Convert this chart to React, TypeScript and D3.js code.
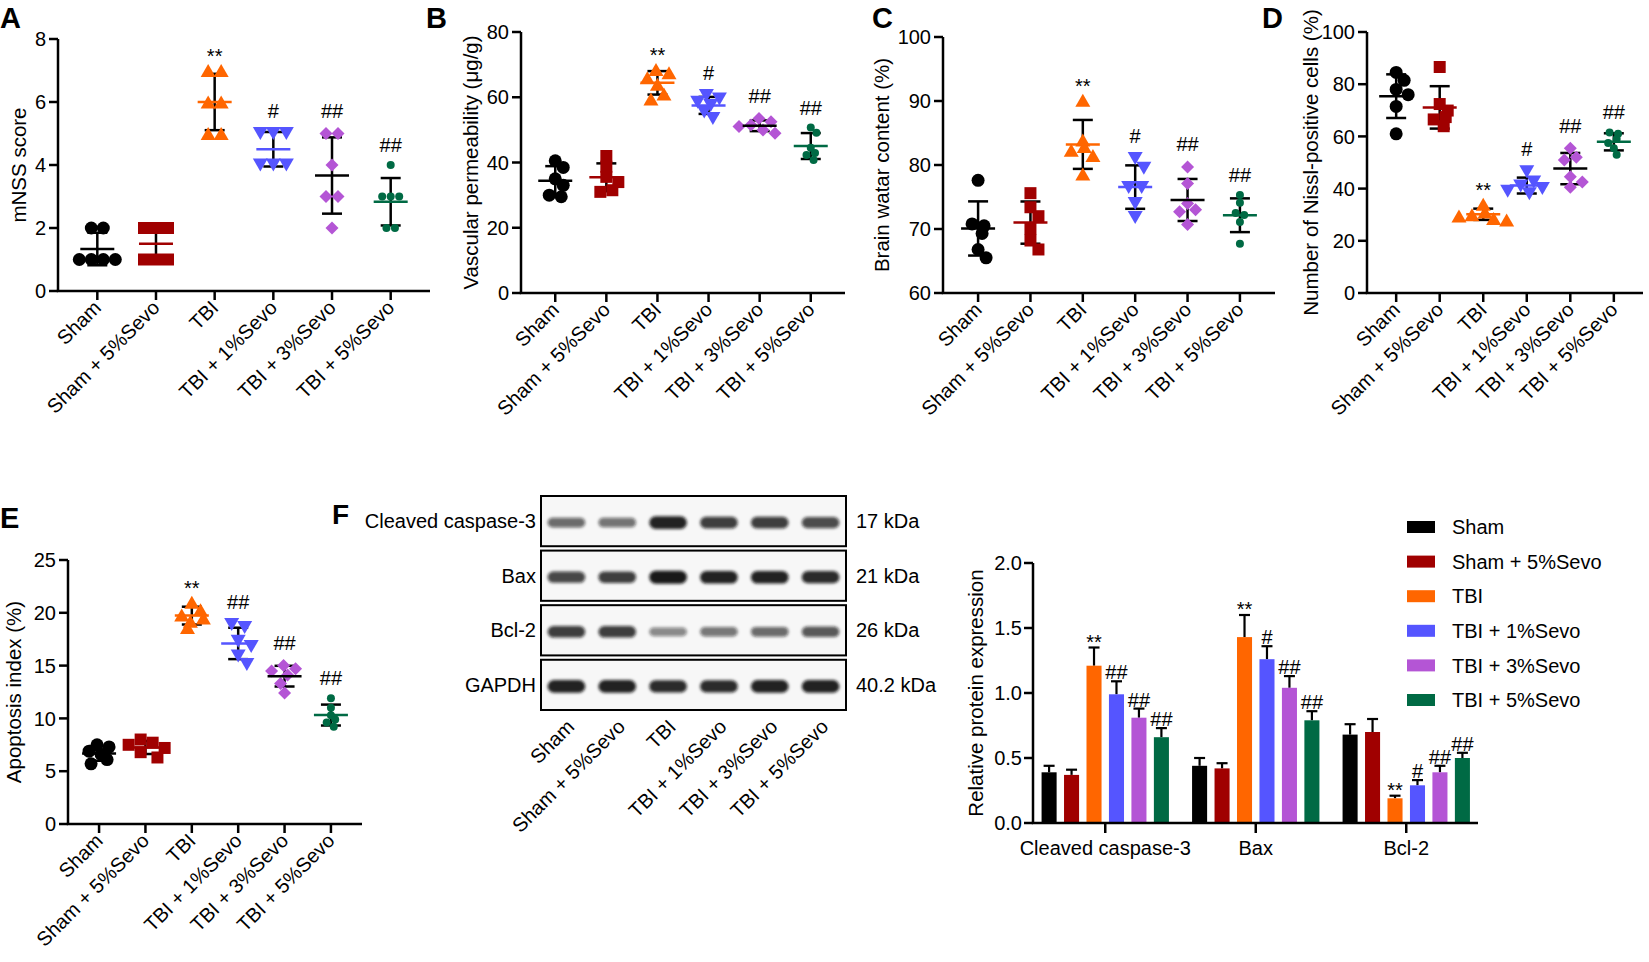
import * as d3 from 'd3';
import React from 'react';

// groups shared by every panel
const groups = ['Sham', 'Sham + 5%Sevo', 'TBI', 'TBI + 1%Sevo', 'TBI + 3%Sevo', 'TBI + 5%Sevo'];
const groupColors = ['#000000', '#a00000', '#ff6600', '#5555ff', '#b455d5', '#006a44'];
const meanColors = ['#000000', '#a00000', '#ff6600', '#5555ff', '#000000', '#006a44'];
const shapes = ['circle', 'square', 'triUp', 'triDown', 'diamond', 'dot'];

// A: mNSS score
const mnssScore = [
  [2, 2, 1, 1, 1, 1],
  [2, 2, 2, 1, 1, 1],
  [7, 7, 6, 6, 5, 5],
  [5, 5, 5, 4, 4, 4],
  [5, 5, 4, 3, 3, 2],
  [4, 3, 3, 3, 2, 2],
];
const mnssSig = ['', '', '**', '#', '##', '##'];
const mnssTicks = [0, 2, 4, 6, 8];

// B: vascular permeability
const permeability = [
  [40.5, 38.5, 35, 33, 30, 29.5],
  [42, 38.7, 35.6, 34, 31.5, 31],
  [68.5, 67.5, 66, 64, 61, 59.5],
  [60.5, 59.5, 58.5, 57.5, 55.5, 53.5],
  [53.5, 52.5, 51.5, 51, 50, 49],
  [50.7, 49.1, 44.5, 42.9, 42.3, 40.8],
];
const permeabilitySig = ['', '', '**', '#', '##', '##'];
const permeabilityTicks = [0, 20, 40, 60, 80];

// C: brain water content
const waterContent = [
  [77.6, 70.8, 70.5, 69.3, 66.8, 65.5],
  [75.6, 73.4, 72, 70, 68.2, 66.8],
  [90.1, 83.9, 82.9, 82.3, 81.5, 78.6],
  [81, 79.5, 76.5, 76.5, 74, 71.8],
  [79.7, 77.1, 74, 73, 72.7, 70.7],
  [75.3, 74.1, 72.5, 72.2, 71.1, 67.7],
];
const waterSig = ['', '', '**', '#', '##', '##'];
const waterTicks = [60, 70, 80, 90, 100];

// D: Nissl-positive cells
const nisslCells = [
  [84.5, 81.5, 78, 76, 71.5, 61],
  [86.6, 72.4, 69.9, 67.4, 66.5, 63.9],
  [34, 31, 30, 29.5, 28.5, 28],
  [46.5, 42.5, 41, 40, 39, 38],
  [55.5, 52, 51, 44.5, 42.5, 40.5],
  [61.5, 61, 59, 57.5, 55.5, 53],
];
const nisslSig = ['', '', '**', '#', '##', '##'];
const nisslTicks = [0, 20, 40, 60, 80, 100];

// E: apoptosis index
const apoptosis = [
  [7.5, 7.3, 6.9, 6.6, 6.1, 5.7],
  [8, 7.7, 7.5, 7.2, 6.8, 6.3],
  [21, 20.3, 19.8, 19.5, 19.2, 18.6],
  [18.9, 18.6, 17.3, 16.8, 15.9, 15.1],
  [15, 14.7, 14.5, 14.1, 13.3, 12.4],
  [11.9, 11, 10.3, 9.9, 9.6, 9.2],
];
const apoptosisSig = ['', '', '**', '##', '##', '##'];
const apoptosisTicks = [0, 5, 10, 15, 20, 25];

// F: western blot
const blotProteins = ['Cleaved caspase-3', 'Bax', 'Bcl-2', 'GAPDH'];
const blotWeights = ['17 kDa', '21 kDa', '26 kDa', '40.2 kDa'];
const blotIntensity = [
  [0.55, 0.5, 0.95, 0.8, 0.8, 0.72],
  [0.75, 0.8, 1, 0.95, 0.95, 0.9],
  [0.8, 0.8, 0.38, 0.48, 0.55, 0.65],
  [0.95, 0.95, 0.9, 0.9, 0.95, 0.95],
];

// F: relative protein expression
const proteinNames = ['Cleaved caspase-3', 'Bax', 'Bcl-2'];
const expressionMean = [
  [0.39, 0.37, 1.21, 0.99, 0.81, 0.66],
  [0.44, 0.42, 1.43, 1.26, 1.04, 0.79],
  [0.68, 0.7, 0.19, 0.29, 0.39, 0.5],
];
const expressionErr = [
  [0.05, 0.04, 0.14, 0.1, 0.07, 0.07],
  [0.06, 0.04, 0.17, 0.1, 0.09, 0.07],
  [0.08, 0.1, 0.02, 0.04, 0.05, 0.04],
];
const expressionSig = [
  ['', '', '**', '##', '##', '##'],
  ['', '', '**', '#', '##', '##'],
  ['', '', '**', '#', '##', '##'],
];
const expressionTicks = [0, 0.5, 1, 1.5, 2];

const FONT = "Arial, 'Liberation Sans', Helvetica, sans-serif";

type Panel = {
  letter: string;
  title: string;
  values: number[][];
  sig: string[];
  ticks: number[];
  axisX: number;
  top: number;
  bottom: number;
  right: number;
  titleX: number;
  letterX: number;
  letterY: number;
};

const markerHalf: Record<string, number> = { circle: 6.5, square: 6, triUp: 6.5, triDown: 6.5, diamond: 6.5, dot: 4 };
const markerGap: Record<string, number> = { circle: 12, square: 12, triUp: 13, triDown: 13, diamond: 12, dot: 8.5 };

function markerPath(shape: string) {
  switch (shape) {
    case 'circle':
      return 'M-6.5,0a6.5,6.5 0 1,0 13,0a6.5,6.5 0 1,0 -13,0Z';
    case 'square':
      return 'M-6,-6h12v12h-12Z';
    case 'triUp':
      return 'M0,-6.5L7.5,6.5L-7.5,6.5Z';
    case 'triDown':
      return 'M0,6.5L7.5,-6.5L-7.5,-6.5Z';
    case 'diamond':
      return 'M0,-6.5L6.5,0L0,6.5L-6.5,0Z';
    default:
      return 'M-4,0a4,4 0 1,0 8,0a4,4 0 1,0 -8,0Z';
  }
}

// deterministic beeswarm: push points sideways until they stop overlapping too much
function swarm(ys: number[], d: number) {
  const order = ys.map((_, i) => i).sort((a, b) => ys[a] - ys[b]);
  const off = ys.map(() => 0);
  const placed: number[] = [];
  const cands = [0];
  for (let k = 1; k < 20; k++) cands.push((k * d) / 3, (-k * d) / 3);
  order.forEach((i) => {
    for (const c of cands) {
      const ok = placed.every((j) => Math.hypot(off[j] - c, ys[j] - ys[i]) >= d * 0.82);
      if (ok) {
        off[i] = c;
        break;
      }
    }
    placed.push(i);
  });
  let start = 0;
  for (let k = 1; k <= order.length; k++) {
    if (k === order.length || ys[order[k]] - ys[order[k - 1]] > d * 0.4) {
      const row = order.slice(start, k);
      if (row.length > 1) {
        const m = d3.mean(row, (j) => off[j]) || 0;
        row.forEach((j) => (off[j] -= m));
      }
      start = k;
    }
  }
  return off;
}

function ScatterPanel({ p }: { p: Panel }) {
  const x = d3.scalePoint<string>().domain(groups).range([p.axisX, p.right]).padding(0.67);
  const y = d3
    .scaleLinear()
    .domain([p.ticks[0], p.ticks[p.ticks.length - 1]])
    .range([p.bottom, p.top]);

  return (
    <g>
      <text x={p.letterX} y={p.letterY} fontSize={29} fontWeight="bold">
        {p.letter}
      </text>
      <text
        transform={`translate(${p.titleX},${(p.top + p.bottom) / 2}) rotate(-90)`}
        textAnchor="middle"
        fontSize={20.5}
      >
        {p.title}
      </text>

      {/* axes */}
      <line x1={p.axisX} x2={p.axisX} y1={p.top} y2={p.bottom} stroke="#000" strokeWidth={2.5} />
      <line x1={p.axisX - 1.25} x2={p.right} y1={p.bottom} y2={p.bottom} stroke="#000" strokeWidth={2.5} />
      {p.ticks.map((t) => (
        <g key={t}>
          <line x1={p.axisX - 9} x2={p.axisX} y1={y(t)} y2={y(t)} stroke="#000" strokeWidth={2.5} />
          <text x={p.axisX - 12} y={y(t)} dy="0.36em" textAnchor="end" fontSize={20}>
            {t}
          </text>
        </g>
      ))}
      {groups.map((g) => (
        <g key={g}>
          <line x1={x(g)} x2={x(g)} y1={p.bottom} y2={p.bottom + 9} stroke="#000" strokeWidth={2.5} />
          <text
            transform={`translate(${x(g)! + 5},${p.bottom + 18}) rotate(-45)`}
            textAnchor="end"
            fontSize={20}
          >
            {g}
          </text>
        </g>
      ))}

      {/* groups */}
      {p.values.map((vals, gi) => {
        const cx = x(groups[gi])!;
        const shape = shapes[gi];
        const ys = vals.map((v) => y(v));
        const offs = swarm(ys, markerGap[shape]);
        const m = d3.mean(vals)!;
        const sd = d3.deviation(vals)!;
        const topY = Math.min(d3.min(ys)! - markerHalf[shape], y(m + sd));
        const sig = p.sig[gi];
        const sigY = sig.includes('*') ? topY - 1 : topY - 9;
        return (
          <g key={gi}>
            <line x1={cx} x2={cx} y1={y(m - sd)} y2={y(m + sd)} stroke="#000" strokeWidth={2.5} />
            <line x1={cx - 10} x2={cx + 10} y1={y(m + sd)} y2={y(m + sd)} stroke="#000" strokeWidth={2.5} />
            <line x1={cx - 10} x2={cx + 10} y1={y(m - sd)} y2={y(m - sd)} stroke="#000" strokeWidth={2.5} />
            {ys.map((py, i) => (
              <path
                key={i}
                d={markerPath(shape)}
                transform={`translate(${cx + offs[i]},${py})`}
                fill={groupColors[gi]}
              />
            ))}
            <line x1={cx - 17} x2={cx + 17} y1={y(m)} y2={y(m)} stroke={meanColors[gi]} strokeWidth={2.5} />
            {sig && (
              <text x={cx} y={sigY} textAnchor="middle" fontSize={20}>
                {sig}
              </text>
            )}
          </g>
        );
      })}
    </g>
  );
}

function Blot() {
  const left = 541;
  const right = 846;
  const rows = d3.scaleBand<string>().domain(blotProteins).range([496, 710]).paddingInner(0.08);
  const lanes = d3.scaleBand<string>().domain(groups).range([left, right]);
  return (
    <g>
      <defs>
        <filter id="bandBlur" x="-30%" y="-100%" width="160%" height="300%">
          <feGaussianBlur stdDeviation="1.8 1.4" />
        </filter>
      </defs>
      <text x={332} y={524} fontSize={28} fontWeight="bold">
        F
      </text>
      {blotProteins.map((prot, ri) => {
        const ry = rows(prot)!;
        const rh = rows.bandwidth();
        const cy = ry + rh * 0.53;
        return (
          <g key={prot}>
            <rect x={left} y={ry} width={right - left} height={rh} fill="#f7f7f7" stroke="#000" strokeWidth={2} />
            <text x={left - 5} y={ry + rh / 2} dy="0.36em" textAnchor="end" fontSize={20}>
              {prot}
            </text>
            <text x={right + 10} y={ry + rh / 2} dy="0.36em" fontSize={20}>
              {blotWeights[ri]}
            </text>
            {groups.map((g, li) => {
              const v = blotIntensity[ri][li];
              const bw = lanes.bandwidth() * 0.74;
              const bh = 6 + 7 * v;
              const lx = lanes(g)! + lanes.bandwidth() / 2;
              return (
                <g key={g} filter="url(#bandBlur)">
                  <rect
                    x={lx - bw / 2}
                    y={cy - bh / 2}
                    width={bw}
                    height={bh}
                    rx={bh / 2}
                    fill="#111"
                    fillOpacity={0.2 + 0.75 * v}
                  />
                </g>
              );
            })}
          </g>
        );
      })}
      {groups.map((g) => (
        <text
          key={g}
          transform={`translate(${lanes(g)! + lanes.bandwidth() / 2 + 9},${728}) rotate(-45)`}
          textAnchor="end"
          fontSize={20}
        >
          {g}
        </text>
      ))}
    </g>
  );
}

function ExpressionChart() {
  const axisX = 1033;
  const top = 563;
  const bottom = 823;
  const x0 = d3.scaleBand<string>().domain(proteinNames).range([1030, 1481.5]);
  const x1 = d3
    .scaleBand<string>()
    .domain(groups)
    .range([-67.5, 67.5])
    .paddingInner(0.33)
    .paddingOuter(0.17);
  const y = d3.scaleLinear().domain([0, 2]).range([bottom, top]);
  const legendY = d3.scalePoint<string>().domain(groups).range([527, 700]);

  return (
    <g>
      <text transform={`translate(983,${(top + bottom) / 2}) rotate(-90)`} textAnchor="middle" fontSize={20.5}>
        Relative protein expression
      </text>
      {proteinNames.map((prot, pi) => {
        const gx = x0(prot)! + x0.bandwidth() / 2;
        return (
          <g key={prot}>
            {groups.map((g, gi) => {
              const bx = gx + x1(g)!;
              const bw = x1.bandwidth();
              const m = expressionMean[pi][gi];
              const e = expressionErr[pi][gi];
              const sig = expressionSig[pi][gi];
              const errTop = y(m + e);
              return (
                <g key={g}>
                  <line x1={bx + bw / 2} x2={bx + bw / 2} y1={y(m)} y2={errTop} stroke="#000" strokeWidth={2.2} />
                  <line x1={bx + bw / 2 - 5.5} x2={bx + bw / 2 + 5.5} y1={errTop} y2={errTop} stroke="#000" strokeWidth={2.2} />
                  <rect x={bx} y={y(m)} width={bw} height={bottom - y(m)} fill={groupColors[gi]} />
                  {sig && (
                    <text
                      x={bx + bw / 2}
                      y={sig.includes('*') ? errTop + 1 : errTop - 2}
                      textAnchor="middle"
                      fontSize={20}
                    >
                      {sig}
                    </text>
                  )}
                </g>
              );
            })}
            <line x1={gx} x2={gx} y1={bottom} y2={bottom + 10} stroke="#000" strokeWidth={2.5} />
            <text x={gx} y={855} textAnchor="middle" fontSize={20}>
              {prot}
            </text>
          </g>
        );
      })}
      <line x1={axisX} x2={axisX} y1={top} y2={bottom} stroke="#000" strokeWidth={2.5} />
      <line x1={axisX - 1.25} x2={1478} y1={bottom} y2={bottom} stroke="#000" strokeWidth={2.5} />
      {expressionTicks.map((t) => (
        <g key={t}>
          <line x1={axisX - 9} x2={axisX} y1={y(t)} y2={y(t)} stroke="#000" strokeWidth={2.5} />
          <text x={axisX - 11} y={y(t)} dy="0.36em" textAnchor="end" fontSize={20}>
            {d3.format('.1f')(t)}
          </text>
        </g>
      ))}
      {groups.map((g, gi) => (
        <g key={g}>
          <rect x={1407} y={legendY(g)! - 6} width={28} height={12} fill={groupColors[gi]} />
          <text x={1452} y={legendY(g)!} dy="0.36em" fontSize={20}>
            {g}
          </text>
        </g>
      ))}
    </g>
  );
}

const panels: Panel[] = [
  { letter: 'A', title: 'mNSS score', values: mnssScore, sig: mnssSig, ticks: mnssTicks, axisX: 58, top: 39, bottom: 291, right: 430, titleX: 26, letterX: 0, letterY: 28 },
  { letter: 'B', title: 'Vascular permeability (μg/g)', values: permeability, sig: permeabilitySig, ticks: permeabilityTicks, axisX: 521, top: 32, bottom: 293, right: 845, titleX: 478, letterX: 426, letterY: 28 },
  { letter: 'C', title: 'Brain watar content (%)', values: waterContent, sig: waterSig, ticks: waterTicks, axisX: 943, top: 37, bottom: 293, right: 1275, titleX: 889, letterX: 872, letterY: 28 },
  { letter: 'D', title: 'Number of Nissl-positive cells (%)', values: nisslCells, sig: nisslSig, ticks: nisslTicks, axisX: 1367, top: 32, bottom: 293, right: 1643, titleX: 1318, letterX: 1262, letterY: 28 },
  { letter: 'E', title: 'Apoptosis index (%)', values: apoptosis, sig: apoptosisSig, ticks: apoptosisTicks, axisX: 68, top: 560, bottom: 824, right: 362, titleX: 21, letterX: 0, letterY: 528 },
];

export default function App() {
  return (
    <svg
      width={1649}
      height={962}
      style={{ position: 'absolute', left: 0, top: 0, background: '#fff' }}
      fontFamily={FONT}
    >
      <rect width={1649} height={962} fill="#fff" />
      {panels.map((p) => (
        <ScatterPanel key={p.letter} p={p} />
      ))}
      <Blot />
      <ExpressionChart />
    </svg>
  );
}
